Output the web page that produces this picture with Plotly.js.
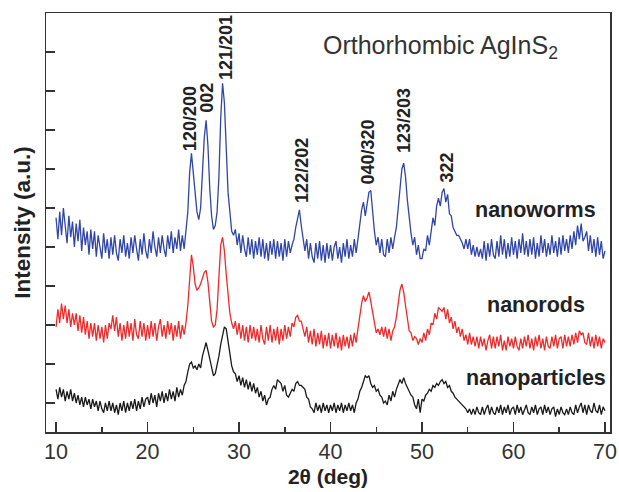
<!DOCTYPE html>
<html>
<head>
<meta charset="utf-8">
<script src="https://cdn.plot.ly/plotly-3.0.1.min.js"></script>
<style>html,body{margin:0;padding:0;background:#fff;}#chart{width:619px;height:492px;}</style>
</head>
<body>
<div id="chart"></div>
<script>
// 2-theta start and step (deg)
const thetaStart = 10.0;
const thetaStep = 0.2;

// Offset intensities (a.u.), one value per 0.2 deg from 10 to 70
const nanoworms = [
5.75,5.2,5.9,5.3,6.0,5.45,5.1,5.8,5.25,5.65,
5.0,5.6,5.15,5.7,4.9,5.5,5.05,5.4,4.8,5.45,
4.95,5.4,4.75,5.3,5.05,4.7,5.35,4.85,5.2,4.7,
5.25,4.8,5.3,4.85,4.65,5.2,4.85,5.3,4.75,5.1,
4.7,5.25,4.85,5.3,4.95,4.65,5.2,4.8,5.35,4.9,
4.7,5.2,4.85,5.4,5.0,4.75,5.25,4.85,5.3,4.95,
4.75,5.3,4.95,5.4,4.85,5.25,4.95,5.45,4.9,5.3,
4.95,5.35,5.9,6.9,7.4,6.9,6.3,5.9,5.7,6.0,
6.9,7.8,8.25,7.6,6.5,5.8,5.45,5.55,5.9,6.8,
8.3,9.2,8.7,7.5,6.4,5.9,5.4,5.3,5.45,5.05,
5.35,4.85,5.3,4.95,4.75,5.25,4.8,5.2,4.7,5.15,
4.8,5.25,4.75,5.2,4.7,5.1,4.65,5.15,4.8,5.2,
4.7,5.15,4.75,5.1,4.65,5.2,4.75,5.15,4.85,5.05,
5.2,5.5,5.75,5.95,5.55,5.25,4.9,5.2,4.7,5.1,
4.75,4.6,5.1,4.7,5.15,4.65,5.05,4.6,5.1,4.7,
5.05,4.65,5.0,5.15,4.7,5.0,4.6,5.1,4.75,5.2,
4.7,5.05,4.75,5.2,4.85,5.2,5.6,5.95,6.15,5.8,
6.1,6.4,6.45,5.9,5.4,5.05,5.25,4.85,5.2,4.8,
4.75,5.2,4.85,5.25,4.95,5.25,5.5,6.0,6.6,7.0,
7.15,6.8,6.2,5.7,5.35,5.05,5.25,4.8,5.05,4.7,
4.7,4.95,4.9,5.3,5.05,5.4,5.75,5.55,6.05,6.25,
6.05,6.4,6.5,6.15,6.35,5.85,5.8,5.5,5.4,5.3,
5.3,5.2,5.1,4.95,5.2,4.95,5.2,4.8,5.05,4.75,
5.0,4.75,4.95,4.7,5.15,4.65,5.1,4.75,5.2,4.8,
4.7,5.15,4.75,5.3,4.8,5.2,4.7,5.1,4.75,5.25,
4.8,5.15,4.7,5.2,4.85,5.35,4.8,5.15,4.75,5.2,
4.8,5.25,4.7,5.1,4.75,5.3,4.85,5.2,4.75,5.1,
4.8,5.3,4.85,5.15,4.75,5.25,4.8,5.3,4.9,5.2,
4.85,5.3,4.95,5.4,5.05,5.55,5.2,5.6,5.15,5.25,
5.4,4.9,5.3,4.85,5.2,4.75,5.25,4.8,5.15,4.7,
4.9
];

const nanorods = [
2.95,3.4,3.05,3.55,3.15,3.5,3.05,3.4,2.95,3.3,
3.0,3.3,2.85,3.25,2.8,3.2,2.75,3.1,2.65,3.05,
2.7,3.05,2.6,3.0,2.65,2.95,2.55,3.0,2.65,3.05,
2.9,3.25,2.85,3.2,2.7,3.05,2.6,3.0,2.65,3.1,
2.7,3.05,2.6,3.15,2.75,2.65,3.1,2.7,3.05,2.6,
3.0,2.65,3.1,2.7,3.05,2.6,2.95,3.15,2.7,3.0,
2.65,3.1,2.75,3.05,2.6,3.0,2.7,3.1,2.65,3.0,
2.75,3.05,3.5,4.3,4.8,4.5,4.05,3.9,3.95,4.05,
4.2,4.35,4.4,4.1,3.6,3.1,2.95,3.0,3.4,4.3,
5.05,5.25,4.9,4.3,3.7,3.3,3.05,2.9,3.1,2.75,
3.05,2.65,3.0,2.6,2.95,2.55,3.0,2.65,2.95,2.6,
2.9,2.55,3.0,2.65,2.5,2.95,2.6,3.0,2.55,2.9,
2.6,2.95,2.5,2.9,2.6,3.0,2.65,2.95,2.7,3.05,
2.95,3.2,3.25,3.1,3.1,2.85,2.7,2.95,2.55,2.85,
2.5,2.9,2.45,2.8,2.5,2.85,2.4,2.75,2.45,2.8,
2.4,2.75,2.45,2.8,2.4,2.7,2.35,2.75,2.45,2.7,
2.4,2.75,2.45,2.8,2.55,2.9,3.3,3.55,3.75,3.6,
3.7,3.85,3.6,3.3,3.05,2.8,2.9,2.75,2.95,2.7,
2.95,2.65,2.9,2.6,2.85,2.95,3.2,3.55,3.9,4.05,
3.85,3.5,3.15,2.85,2.8,2.6,2.7,2.65,2.5,2.65,
2.55,2.8,2.6,2.9,2.75,3.05,3.0,3.3,3.15,3.45,
3.4,3.35,3.45,3.15,3.4,3.05,3.2,2.9,3.1,2.8,
2.95,2.7,2.9,2.6,2.75,2.5,2.8,2.5,2.7,2.45,
2.7,2.4,2.7,2.45,2.65,2.35,2.6,2.75,2.4,2.7,
2.4,2.7,2.45,2.75,2.35,2.6,2.35,2.7,2.45,2.65,
2.4,2.7,2.45,2.35,2.65,2.4,2.7,2.45,2.75,2.4,
2.65,2.35,2.7,2.45,2.75,2.4,2.65,2.35,2.7,2.45,
2.4,2.7,2.45,2.75,2.4,2.65,2.7,2.4,2.75,2.45,
2.7,2.45,2.75,2.5,2.8,2.55,2.85,2.75,2.8,2.55,
2.5,2.8,2.45,2.7,2.4,2.75,2.45,2.7,2.4,2.65,
2.55
];

const nanoparticles = [
1.35,1.1,1.4,1.15,1.35,1.05,1.3,1.1,1.35,1.05,
1.25,1.0,1.2,0.95,1.15,0.9,1.15,0.95,1.1,0.85,
1.1,0.9,1.05,0.8,1.05,0.85,0.75,1.0,0.8,1.05,
0.8,1.0,0.75,0.95,0.7,1.0,0.8,1.05,0.75,1.0,
0.8,1.05,0.85,1.1,0.8,1.05,0.85,1.15,0.9,1.1,
1.15,0.95,1.25,1.0,1.2,0.9,1.25,1.05,1.3,1.0,
1.25,1.05,1.35,1.1,1.3,1.05,1.4,1.15,1.35,1.2,
1.45,1.55,1.8,2.0,2.05,1.9,1.95,1.85,2.0,1.9,
2.2,2.4,2.55,2.35,2.1,1.85,1.7,1.75,1.95,2.2,
2.5,2.75,2.95,2.9,2.55,2.2,1.95,1.8,1.75,1.55,
1.7,1.45,1.65,1.4,1.6,1.35,1.55,1.3,1.5,1.25,
1.4,1.15,1.3,1.05,1.2,0.95,1.1,1.15,1.35,1.45,
1.35,1.6,1.55,1.5,1.3,1.45,1.2,1.15,1.25,1.35,
1.3,1.5,1.55,1.45,1.45,1.4,1.35,1.15,1.1,0.9,
0.85,0.75,1.0,0.8,0.95,0.75,1.0,0.8,0.95,0.75,
0.95,0.8,1.0,0.75,0.95,0.8,1.0,0.75,0.95,0.8,
1.0,0.8,0.95,0.75,1.0,1.1,1.3,1.4,1.55,1.7,
1.65,1.7,1.5,1.4,1.45,1.3,1.35,1.2,1.15,1.0,
1.05,0.95,1.2,1.05,1.3,1.15,1.35,1.5,1.6,1.5,
1.65,1.5,1.4,1.3,1.2,1.15,0.95,0.85,1.1,0.75,
1.1,1.05,1.2,1.25,1.35,1.3,1.45,1.4,1.5,1.45,
1.55,1.6,1.5,1.55,1.4,1.45,1.3,1.25,1.15,1.1,
1.05,1.0,0.95,0.9,0.85,0.75,0.85,0.7,0.85,0.7,
0.9,0.75,0.7,0.9,0.7,0.85,0.95,0.7,0.9,0.75,
0.7,0.9,0.75,0.95,0.7,0.9,0.75,0.95,0.7,0.85,
0.9,0.7,0.95,0.75,0.9,0.7,0.85,0.95,0.75,0.7,
0.9,0.75,0.95,0.7,0.85,0.9,0.7,0.95,0.75,0.9,
0.7,0.85,0.9,0.65,0.85,0.7,0.9,0.75,0.7,0.85,
0.7,0.9,0.75,0.7,0.95,0.75,0.9,1.0,0.75,0.95,
0.7,0.95,0.8,0.75,1.0,0.8,0.75,0.95,0.7,0.9,
0.8
];

// Series labels
const seriesNames = ["nanoworms", "nanorods", "nanoparticles"];

// Reflection (hkl) labels and their 2-theta / label-base positions
const peakLabels = ["120/200", "002", "121/201", "122/202", "040/320", "123/203", "322"];
const peakTheta  = [24.6, 26.56, 28.52, 36.94, 44.1, 48.09, 52.68];
const peakBase   = [7.41, 8.38, 9.23, 6.08, 6.54, 7.36, 6.59];

// X tick labels
const xTickVals = [10, 20, 30, 40, 50, 60, 70];
const xTickText = ["10", "20", "30", "40", "50", "60", "70"];

const theta = nanoworms.map((_, i) => +(thetaStart + i * thetaStep).toFixed(2));

const colors = ["#3046a8", "#ee2a2a", "#1a1a1a"];
const seriesData = [nanoworms, nanorods, nanoparticles];

const traces = seriesData.map((ys, k) => ({
  x: theta, y: ys, type: "scatter", mode: "lines", name: seriesNames[k],
  line: { color: colors[k], width: 1.3 }, showlegend: false, hoverinfo: "skip"
}));

const FONT = "Liberation Sans, Arial, sans-serif";
const annotations = [];
peakLabels.forEach((t, i) => {
  annotations.push({
    x: peakTheta[i], y: peakBase[i], xref: "x", yref: "y", text: "<b>" + t + "</b>",
    textangle: -90, showarrow: false, xanchor: "center", yanchor: "bottom",
    font: { family: FONT, size: 18, color: "#222" }
  });
});
const nameY = [5.95, 3.51, 1.64];
seriesNames.forEach((t, k) => {
  annotations.push({
    x: 62.46, y: nameY[k], xref: "x", yref: "y", text: "<b>" + t + "</b>",
    showarrow: false, xanchor: "center", yanchor: "middle",
    font: { family: FONT, size: 21.5, color: "#222" }
  });
});
annotations.push({
  x: 51.97, y: 10.12, xref: "x", yref: "y", text: "Orthorhombic AgInS<sub>2</sub>",
  showarrow: false, xanchor: "center", yanchor: "middle",
  font: { family: FONT, size: 25, color: "#333" }
});

const layout = {
  width: 619, height: 492,
  margin: { l: 46, r: 9, t: 13, b: 60, pad: 0 },
  paper_bgcolor: "#fff", plot_bgcolor: "#fff",
  showlegend: false,
  xaxis: {
    range: [8.9, 70.55], showgrid: false, zeroline: false,
    tickmode: "array", tickvals: xTickVals, ticktext: xTickText,
    ticks: "inside", ticklen: 10, tickwidth: 1.5, tickcolor: "#333",
    minor: { dtick: 5, tick0: 5, ticks: "inside", ticklen: 5, tickwidth: 1.5, tickcolor: "#333", showgrid: false },
    showline: true, linecolor: "#333", linewidth: 1.5, mirror: true,
    tickfont: { family: FONT, size: 21.5, color: "#333" },
    title: { text: "<b>2θ (deg)</b>", font: { family: FONT, size: 21, color: "#222" }, standoff: 6 }
  },
  yaxis: {
    range: [0.256, 11], showgrid: false, zeroline: false,
    tick0: 1, dtick: 1, ticks: "inside", ticklen: 9, tickwidth: 1.5, tickcolor: "#333",
    showticklabels: false,
    showline: true, linecolor: "#333", linewidth: 1.5, mirror: true,
    title: { text: "<b>Intensity (a.u.)</b>", font: { family: FONT, size: 22.5, color: "#222" }, standoff: 7 }
  },
  annotations: annotations
};

Plotly.newPlot("chart", traces, layout, { displayModeBar: false, staticPlot: true });
</script>
</body>
</html>
